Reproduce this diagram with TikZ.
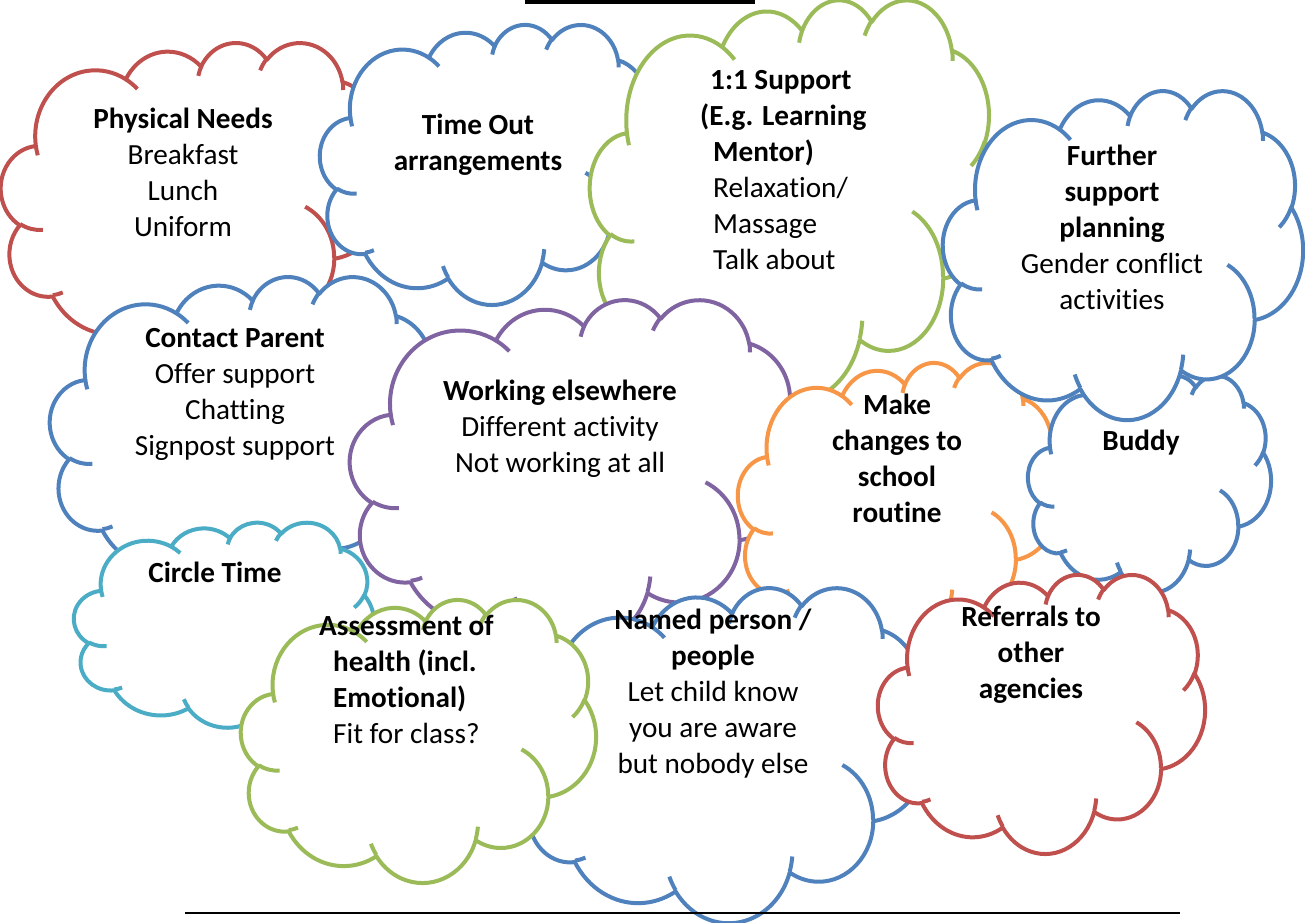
\documentclass[tikz,border=0pt]{standalone}
\usepackage{fontspec}
\setmainfont{Carlito}[Ligatures=NoCommon]
\usepackage{tikz}

\definecolor{cred}{HTML}{C0504D}
\definecolor{cblue}{HTML}{4F81BD}
\definecolor{cgreen}{HTML}{9BBB59}
\definecolor{cpurple}{HTML}{8064A2}
\definecolor{cteal}{HTML}{4BACC6}
\definecolor{corange}{HTML}{F79646}

% arc of the cloud: style name, x radius, y radius, start, sweep
\newcommand\puffarc[5]{%
  \pgfmathsetmacro\arcsa{atan2((#2)*sin(#4),(#3)*cos(#4))}%
  \pgfmathsetmacro\arcsb{atan2((#2)*sin((#4)+(#5)),(#3)*cos((#4)+(#5)))}%
  \pgfmathsetmacro\arcsd{(\arcsb)-(\arcsa)+360*((\arcsb)<(\arcsa))}%
  \tikzset{#1/.estyle={start angle=\arcsa, delta angle=\arcsd,
      x radius=#2pt, y radius=#3pt}}}
% outline
\puffarc{outa}{6.753}{9.190}{-190.4875}{123.7805}
\puffarc{outb}{5.333}{7.267}{-144.1024}{89.9452}
\puffarc{outc}{4.365}{5.945}{-145.8079}{99.7230}
\puffarc{outd}{4.857}{6.595}{-130.9861}{117.2417}
\puffarc{oute}{5.333}{7.273}{-78.7089}{109.0269}
\puffarc{outf}{6.775}{9.220}{-46.2673}{130.2690}
\puffarc{outg}{5.785}{7.867}{0.6250}{114.0333}
\puffarc{outh}{6.752}{9.215}{22.4516}{115.1726}
\puffarc{outi}{7.720}{10.543}{66.2426}{75.7110}
\puffarc{outj}{4.360}{5.918}{-274.9421}{146.7356}
\puffarc{outk}{4.345}{5.945}{-246.8285}{152.5189}
% inner ticks
\puffarc{inna}{4.345}{5.945}{86.7420}{26.4295}
\puffarc{innb}{4.360}{5.918}{73.6105}{11.4475}
\puffarc{innc}{6.752}{9.215}{137.6242}{14.0811}
\puffarc{innd}{6.752}{9.215}{6.4533}{15.9984}
\puffarc{inne}{5.785}{7.867}{-70.2924}{70.9174}
\puffarc{innf}{5.333}{7.273}{30.3180}{27.7515}
\puffarc{inng}{4.857}{6.595}{-13.7443}{14.8589}
\puffarc{innh}{4.857}{6.595}{-149.1815}{18.1954}
\puffarc{inni}{4.365}{5.945}{-163.4943}{17.6864}
\puffarc{innj}{6.753}{9.190}{-66.7070}{12.3194}
\puffarc{innk}{6.753}{9.190}{157.6544}{11.8582}

% left, top, width, height, colour
\newcommand\cloudshape[5]{%
  \begin{scope}[shift={(#1,#2)},xscale=#3/43.2,yscale=#4/43.2]
    \filldraw[cloudline,draw=#5,fill=white] (3.9,14.37) arc[outa] arc[outb] arc[outc]
      arc[outd] arc[oute] arc[outf] arc[outg] arc[outh] arc[outi] arc[outj] arc[outk] -- cycle;
    \draw[cloudline,draw=#5] (4.693,26.177) arc[inna] (6.928,34.899) arc[innb]
      (16.478,39.09) arc[innc] (28.827,34.751) arc[innd] (34.129,22.954) arc[inne]
      (41.798,15.354) arc[innf] (38.324,5.426) arc[inng] (29.078,3.952) arc[innh]
      (22.141,4.72) arc[inni] (14,5.192) arc[innj] (4.127,15.789) arc[innk];
  \end{scope}}

\begin{document}
\begin{tikzpicture}[x=1pt,y=1pt,yscale=-1,
  cloudline/.style={line width=4pt,line join=round},
  txt/.style={font=\fontsize{29.2}{36}\selectfont,align=center,inner sep=0pt}]
\useasboundingbox (0,0) rectangle (1305,922);

% clouds, back to front
\cloudshape{1}{42}{385}{310}{cred}
\cloudshape{320}{24}{336}{280}{cblue}
\cloudshape{590}{-1}{408}{400}{cgreen}
\cloudshape{50}{276}{390}{310}{cblue}
\cloudshape{74}{522}{300}{205}{cteal}
\cloudshape{350}{299}{450}{345}{cpurple}
\cloudshape{738}{362}{321}{283}{corange}
\cloudshape{1028}{375}{243}{217}{cblue}
\cloudshape{943}{90}{360}{329}{cblue}
\cloudshape{520}{587}{408}{335}{cblue}
\cloudshape{241}{599}{355}{283}{cgreen}
\cloudshape{878}{574}{327}{279}{cred}

% bar on top and rule at the bottom
\fill[black] (525,0) rectangle (755,3.5);
\coordinate (rulel) at (185,913);
\coordinate (ruler) at (1180,913);
\draw[line width=2.5pt] (rulel) -- (ruler);

% texts
\node[txt] (phys) at (183,172) {\textbf{Physical Needs}\\Breakfast\\Lunch\\Uniform};
\node[txt] (timeout) at (478,144.5) {\textbf{Time Out}\\\textbf{arrangements}};
\node[txt,align=left,anchor=west] (oneone) at (700,170)
  {\hspace*{10pt}\textbf{1:1 Support}\\\textbf{(E.g. Learning}\\\hspace*{13pt}\textbf{Mentor)}\\
   \hspace*{13pt}Relaxation/\\\hspace*{13pt}Massage\\\hspace*{13pt}Talk about};
\node[txt] (further) at (1112,227.8)
  {\textbf{Further}\\\textbf{support}\\\textbf{planning}\\Gender conflict\\activities};
\node[txt] (contact) at (235,394) {\textbf{Contact Parent}\\Offer support\\Chatting\\Signpost support};
\node[txt] (working) at (560,429) {\textbf{Working elsewhere}\\Different activity\\Not working at all};
\node[txt] (make) at (897,458) {\textbf{Make}\\\textbf{changes to}\\\textbf{school}\\\textbf{routine}};
\node[txt] (buddy) at (1141,443) {\textbf{Buddy}};
\node[txt] (circle) at (215,572) {\textbf{Circle Time}};
\node[txt,align=left,anchor=west] (assess) at (319,679.5)
  {\textbf{Assessment of}\\\hspace*{14pt}\textbf{health (incl.}\\\hspace*{14pt}\textbf{Emotional)}\\
   \hspace*{14pt}Fit for class?};
\node[txt] (named) at (713,694)
  {\textbf{Named person /}\\\textbf{people}\\Let child know\\you are aware\\but nobody else};
\node[txt] (referrals) at (1031,655) {\textbf{Referrals to}\\\textbf{other}\\\textbf{agencies}};
\end{tikzpicture}
\end{document}
